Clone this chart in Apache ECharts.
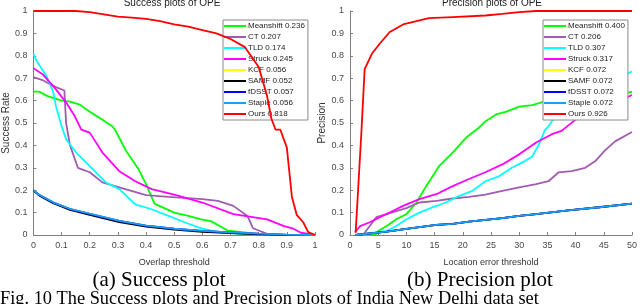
<!DOCTYPE html>
<html><head><meta charset="utf-8">
<script src="https://cdn.jsdelivr.net/npm/echarts@6/dist/echarts.min.js"></script>
<style>html,body{margin:0;padding:0;background:#fff}#c{width:640px;height:304px}</style>
</head><body><div id="c"></div>
<script>
// ---- Success plot data: [overlap threshold, success rate]
const succMeanshift = [[0,0.64],[0.02,0.64],[0.05,0.62],[0.1,0.6],[0.13,0.595],[0.165,0.582],[0.2,0.55],[0.245,0.515],[0.28,0.485],[0.29,0.47],[0.327,0.38],[0.375,0.29],[0.4,0.227],[0.43,0.14],[0.5,0.1],[0.55,0.085],[0.596,0.07],[0.63,0.062],[0.69,0.02],[0.75,0.012],[0.8,0.003],[0.85,0],[1,0]];
const succCT = [[0,0.705],[0.035,0.69],[0.08,0.66],[0.11,0.645],[0.116,0.5],[0.13,0.4],[0.158,0.3],[0.2,0.28],[0.245,0.235],[0.305,0.213],[0.4,0.178],[0.48,0.17],[0.6,0.16],[0.655,0.152],[0.71,0.13],[0.76,0.085],[0.78,0.03],[0.83,0.005],[0.9,0],[1,0]];
const succTLD = [[0,0.81],[0.01,0.78],[0.046,0.71],[0.07,0.64],[0.08,0.575],[0.1,0.485],[0.117,0.425],[0.152,0.368],[0.2,0.307],[0.257,0.235],[0.305,0.205],[0.362,0.137],[0.42,0.115],[0.48,0.085],[0.537,0.057],[0.596,0.03],[0.655,0.013],[0.75,0.004],[0.85,0],[1,0]];
const succStruck = [[0,0.745],[0.035,0.715],[0.08,0.65],[0.117,0.59],[0.147,0.53],[0.17,0.47],[0.2,0.457],[0.245,0.368],[0.305,0.285],[0.362,0.24],[0.42,0.205],[0.5,0.18],[0.6,0.145],[0.71,0.093],[0.83,0.07],[0.89,0.04],[0.92,0.03],[0.95,0.01],[1,0]];
const succKCF = [[0,0.2],[0.02,0.18],[0.07,0.145],[0.13,0.115],[0.2,0.093],[0.305,0.062],[0.4,0.041],[0.5,0.027],[0.6,0.017],[0.7,0.011],[0.8,0.005],[0.9,0.001],[1,0]];
const succSAMF = [[0,0.198],[0.02,0.177],[0.07,0.142],[0.13,0.112],[0.2,0.09],[0.305,0.058],[0.4,0.038],[0.5,0.024],[0.6,0.014],[0.7,0.008],[0.8,0.003],[0.9,0],[1,0]];
const succFDSST = [[0,0.2],[0.02,0.18],[0.07,0.146],[0.13,0.116],[0.2,0.094],[0.305,0.063],[0.4,0.042],[0.5,0.028],[0.6,0.018],[0.7,0.012],[0.8,0.006],[0.9,0.001],[1,0]];
const succStaple = [[0,0.2],[0.02,0.18],[0.07,0.146],[0.13,0.117],[0.2,0.095],[0.305,0.063],[0.4,0.042],[0.5,0.028],[0.6,0.018],[0.7,0.012],[0.8,0.006],[0.9,0.002],[1,0]];
const succOurs = [[0,1],[0.1,1],[0.15,1],[0.2,0.995],[0.25,0.985],[0.3,0.975],[0.35,0.97],[0.4,0.965],[0.45,0.955],[0.5,0.94],[0.55,0.93],[0.6,0.915],[0.65,0.9],[0.7,0.875],[0.75,0.84],[0.8,0.75],[0.83,0.62],[0.845,0.52],[0.86,0.47],[0.877,0.47],[0.9,0.39],[0.918,0.17],[0.935,0.09],[0.958,0.057],[0.976,0.013],[1,0]];

// ---- Precision plot data: [location error threshold, precision]
const precMeanshift = [[1,0],[4.5,0],[5,0.018],[6.5,0.04],[8.2,0.07],[10,0.093],[11.8,0.145],[13.5,0.218],[15.8,0.307],[18.2,0.368],[20.6,0.435],[22.9,0.48],[24,0.507],[25.9,0.538],[27.6,0.55],[30,0.573],[32.3,0.58],[34.6,0.597],[38,0.605],[42,0.612],[46,0.625],[48.7,0.63],[50,0.64]];
const precCT = [[1,0],[2.3,0],[3.5,0.04],[4.7,0.08],[6.5,0.093],[8.2,0.107],[10,0.12],[12.3,0.145],[15.3,0.152],[18.2,0.163],[21.1,0.17],[24,0.18],[27,0.197],[30,0.213],[33,0.227],[35.2,0.24],[37,0.28],[39.3,0.285],[41.7,0.3],[43.5,0.33],[45.3,0.38],[47,0.418],[50,0.46]];
const precTLD = [[1.2,0],[6.5,0.018],[8.2,0.04],[10,0.07],[12.3,0.1],[14.6,0.123],[17,0.145],[19.4,0.175],[21.7,0.197],[24,0.24],[26.4,0.262],[28.7,0.3],[31,0.33],[32.3,0.35],[33.5,0.405],[34.6,0.47],[35.2,0.485],[36.4,0.53],[38,0.57],[41,0.62],[44,0.66],[47,0.7],[48.7,0.715],[50,0.73]];
const precStruck = [[0.9,0.013],[1.8,0.04],[3.5,0.057],[5.3,0.08],[7.6,0.107],[9.4,0.13],[12.3,0.16],[15.3,0.182],[18.2,0.218],[21.1,0.25],[24,0.28],[27,0.315],[30,0.36],[33,0.413],[35.8,0.45],[37.5,0.465],[40,0.515],[42,0.54],[45,0.575],[48.7,0.61],[50,0.625]];
const precKCF = [[1,0],[6.5,0.015],[10,0.027],[15.3,0.045],[18.2,0.05],[21.1,0.06],[27,0.075],[30,0.085],[33,0.093],[38.7,0.11],[44.6,0.125],[50,0.14]];
const precSAMF = [[1,0],[6.5,0.015],[10,0.027],[15.3,0.045],[18.2,0.05],[21.1,0.06],[27,0.075],[30,0.085],[33,0.093],[38.7,0.11],[44.6,0.125],[50,0.14]];
const precFDSST = [[1,0],[6.5,0.015],[10,0.027],[15.3,0.045],[18.2,0.05],[21.1,0.06],[27,0.075],[30,0.085],[33,0.093],[38.7,0.11],[44.6,0.125],[50,0.14]];
const precStaple = [[1,0],[6.5,0.015],[10,0.027],[15.3,0.045],[18.2,0.05],[21.1,0.06],[27,0.075],[30,0.085],[33,0.093],[38.7,0.11],[44.6,0.125],[50,0.14]];
const precOurs = [[1,0.01],[2,0.45],[2.6,0.74],[3.9,0.81],[5.3,0.855],[7,0.905],[9.4,0.94],[11.8,0.955],[14,0.968],[18.2,0.973],[24,0.98],[27,0.987],[30,0.995],[33,1],[50,1]];

// ---- Legend labels (tracker + score)
const trackers = ['Meanshift','CT','TLD','Struck','KCF','SAMF','fDSST','Staple','Ours'];
const succScores = ['0.236','0.207','0.174','0.245','0.056','0.052','0.057','0.056','0.818'];
const precScores = ['0.400','0.206','0.307','0.317','0.072','0.072','0.072','0.072','0.926'];
const colors = ['#00ff00','#a05cb0','#00ffff','#ff00ff','#ffff00','#000000','#0000ff','#1aa0f0','#ff0000'];
const succData = [succMeanshift,succCT,succTLD,succStruck,succKCF,succSAMF,succFDSST,succStaple,succOurs];
const precData = [precMeanshift,precCT,precTLD,precStruck,precKCF,precSAMF,precFDSST,precStaple,precOurs];
const succTicks = {min:0,max:1,interval:0.1};
const precTicks = {min:0,max:50,interval:5};

const axisColor = '#808080';
const sans = 'Arial, Liberation Sans, sans-serif';
const serif = 'Liberation Serif, Times New Roman, serif';
const labelStyle = {color:'#4a4a4a', fontSize:9, fontFamily:sans};
const nameStyle = {color:'#333', fontSize:9, fontFamily:sans};

function xAxis(gi, t, name){
  return {type:'value', gridIndex:gi, min:t.min, max:t.max, interval:t.interval,
    name:name, nameLocation:'middle', nameGap:23, nameTextStyle:nameStyle,
    axisLine:{lineStyle:{color:axisColor,width:1}},
    axisTick:{inside:true,length:3,lineStyle:{color:axisColor}},
    axisLabel:Object.assign({margin:6},labelStyle), splitLine:{show:false}};
}
function yAxis(gi, name){
  return {type:'value', gridIndex:gi, min:0, max:1, interval:0.1,
    name:name, nameLocation:'middle', nameGap:20, nameTextStyle:Object.assign({},nameStyle,{fontSize:10}),
    axisLine:{show:true,lineStyle:{color:axisColor,width:1}},
    axisTick:{show:true,inside:true,length:3,lineStyle:{color:axisColor}},
    axisLabel:Object.assign({margin:6},labelStyle), splitLine:{show:false}};
}
const series = [];
trackers.forEach((t,i)=>{
  series.push({type:'line', name:t+' '+succScores[i], xAxisIndex:0, yAxisIndex:0, data:succData[i],
    showSymbol:false, symbol:'none', lineStyle:{color:colors[i], width:1.8}, itemStyle:{color:colors[i]}, z:2+i});
  series.push({type:'line', name:t+' '+precScores[i], xAxisIndex:1, yAxisIndex:1, data:precData[i],
    showSymbol:false, symbol:'none', lineStyle:{color:colors[i], width:1.8}, itemStyle:{color:colors[i]}, z:2+i});
});
function legend(left, scores){
  return {orient:'vertical', left:left, top:20, data:trackers.map((t,i)=>t+' '+scores[i]),
    icon:'rect', itemWidth:22, itemHeight:2, itemGap:1,
    backgroundColor:'#fff', borderColor:'#8a8a8a', borderWidth:1, borderRadius:0, padding:[1,3,1,1],
    textStyle:{fontSize:8, lineHeight:10, color:'#222', fontFamily:sans, padding:[0,0,0,-3]},
    selectedMode:false, z:10};
}
const chart = echarts.init(document.getElementById('c'), null, {renderer:'canvas'});
chart.setOption({
  animation:false, backgroundColor:'#fff',
  grid:[{left:30, top:11, width:285, height:224},{left:350, top:11, width:284, height:224}],
  xAxis:[xAxis(0, succTicks, 'Overlap threshold'), xAxis(1, precTicks, 'Location error threshold')],
  yAxis:[yAxis(0,'Success Rate'), yAxis(1,'Precision')],
  legend:[legend(223, succScores), legend(543, precScores)],
  series:series,
  graphic:[
    {type:'text', x:172, y:-2, style:{text:'Success plots of OPE', fontSize:10, fill:'#222', fontFamily:sans, textAlign:'center'}},
    {type:'text', x:492, y:-2, style:{text:'Precision plots of OPE', fontSize:10, fill:'#222', fontFamily:sans, textAlign:'center'}},
    {type:'text', x:159, y:280, style:{text:'(a) Success plot', fontSize:21, fill:'#000', fontFamily:serif, textAlign:'center', textVerticalAlign:'middle'}},
    {type:'text', x:480, y:280, style:{text:'(b) Precision plot', fontSize:21, fill:'#000', fontFamily:serif, textAlign:'center', textVerticalAlign:'middle'}},
    {type:'text', x:0, y:290, scaleX:0.965, style:{text:'Fig. 10 The Success plots and Precision plots of India New Delhi data set', fontSize:19, fill:'#000', fontFamily:serif, textAlign:'left'}}
  ]
});
</script></body></html>
